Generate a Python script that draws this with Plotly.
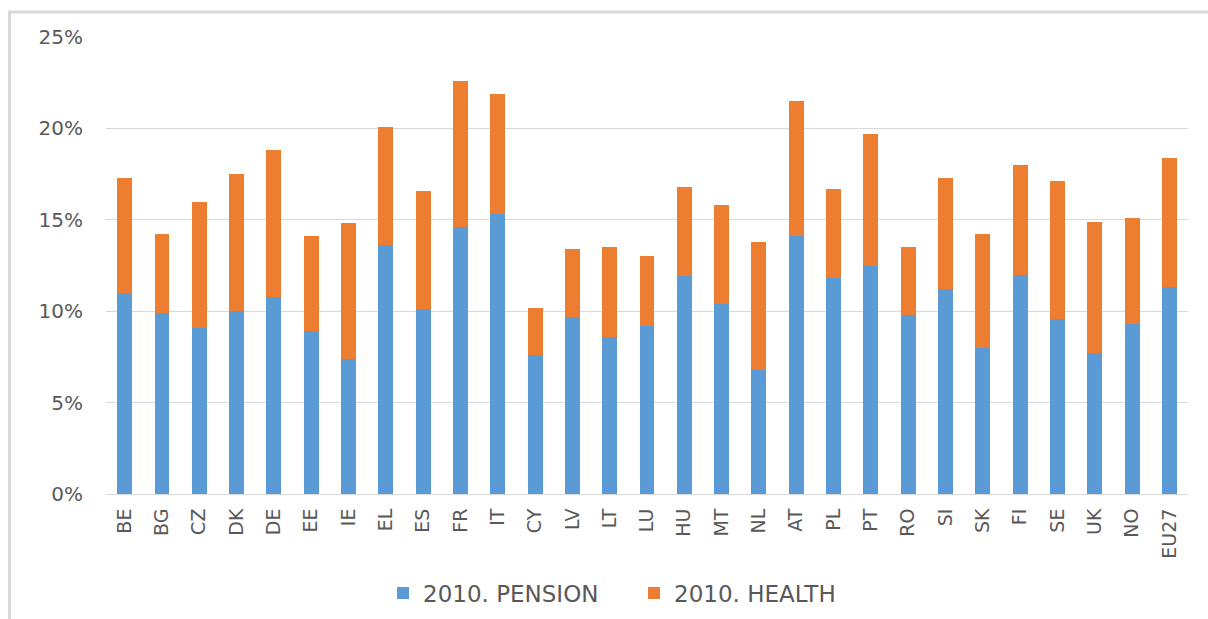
import plotly.graph_objects as go

# Public spending as a share of GDP, 2010
countries = ["BE", "BG", "CZ", "DK", "DE", "EE", "IE", "EL", "ES", "FR", "IT",
             "CY", "LV", "LT", "LU", "HU", "MT", "NL", "AT", "PL", "PT", "RO",
             "SI", "SK", "FI", "SE", "UK", "NO", "EU27"]
pension_pct = [11.0, 9.9, 9.1, 10.0, 10.8, 8.9, 7.4, 13.6, 10.1, 14.6, 15.3,
               7.6, 9.7, 8.6, 9.2, 11.9, 10.4, 6.8, 14.1, 11.8, 12.5, 9.8,
               11.2, 8.0, 12.0, 9.6, 7.7, 9.3, 11.3]
health_pct = [6.3, 4.3, 6.9, 7.5, 8.0, 5.2, 7.4, 6.5, 6.5, 8.0, 6.6,
              2.6, 3.7, 4.9, 3.8, 4.9, 5.4, 7.0, 7.4, 4.9, 7.2, 3.7,
              6.1, 6.2, 6.0, 7.5, 7.2, 5.8, 7.1]
series_names = ["2010. PENSION", "2010. HEALTH"]
series_colors = ["#5B9BD5", "#ED7D31"]

W, H = 1208, 619
ML, MR, MT, MB = 106, 20, 37, 125
PW, PH = W - ML - MR, H - MT - MB


def px_x(x):
    return (x - ML) / PW


def px_y(y):
    return (H - MB - y) / PH


FONT = "DejaVu Sans"
GREY = "#595959"

fig = go.Figure()
for name, vals, col in zip(series_names, [pension_pct, health_pct], series_colors):
    fig.add_trace(go.Bar(
        x=countries,
        y=[v / 100 for v in vals],
        name=name,
        marker=dict(color=col, line=dict(width=0)),
    ))

fig.update_layout(
    width=W, height=H,
    barmode="stack",
    bargap=0.6,
    plot_bgcolor="white",
    paper_bgcolor="white",
    margin=dict(l=ML, r=MR, t=MT, b=MB, autoexpand=False),
    font=dict(family=FONT, color=GREY),
    showlegend=True,
    legend=dict(
        orientation="h",
        traceorder="normal",
        x=px_x(383), xanchor="left",
        y=px_y(593), yanchor="middle",
        font=dict(size=23, color=GREY, family=FONT),
        entrywidth=206, entrywidthmode="pixels",
        itemwidth=30,
        bgcolor="rgba(0,0,0,0)",
    ),
    xaxis=dict(
        type="category",
        tickangle=-90,
        tickfont=dict(size=19, color=GREY, family=FONT),
        showgrid=False,
        showline=True, linecolor="#d9d9d9", linewidth=1,
        ticks="",
        ticklabelstandoff=6,
    ),
    yaxis=dict(
        range=[0, 0.25],
        dtick=0.05,
        tickformat=".0%",
        tickfont=dict(size=20, color=GREY, family=FONT),
        showgrid=True, gridcolor="#d9d9d9", gridwidth=1,
        zeroline=False,
        showline=False,
        ticks="",
        ticklabelstandoff=22,
    ),
    shapes=[
        # chart frame: only the top and left edges fall inside the page
        dict(type="rect", xref="paper", yref="paper",
             x0=px_x(9.5), x1=px_x(W + 20),
             y0=px_y(H + 20), y1=px_y(12),
             line=dict(color="#d9d9d9", width=3),
             fillcolor="rgba(0,0,0,0)", layer="below"),
    ],
)

fig.write_html("out.html")
